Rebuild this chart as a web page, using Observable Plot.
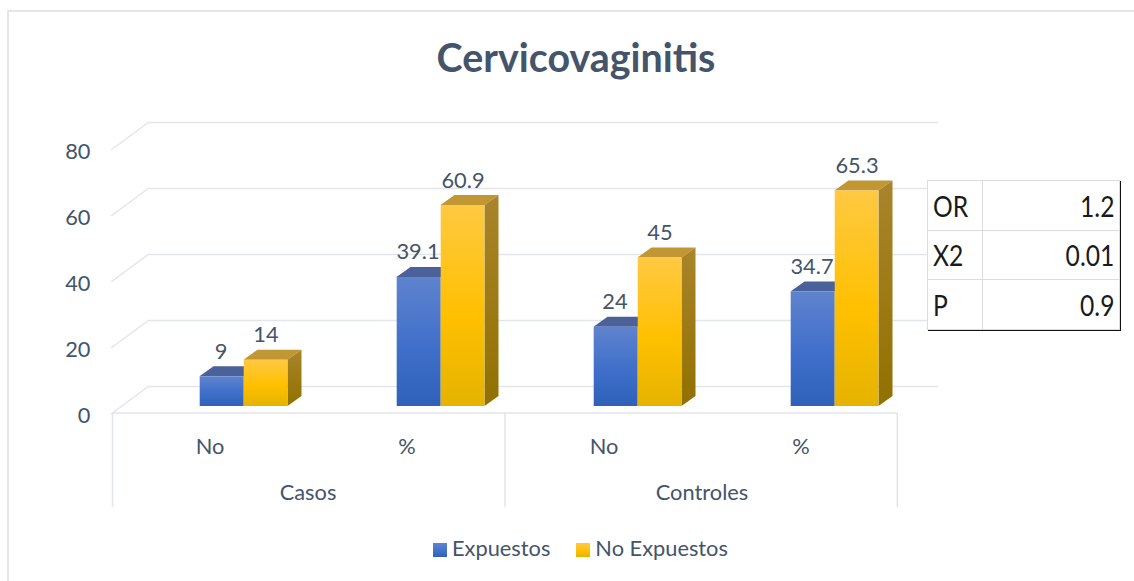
<!DOCTYPE html>
<html><head><meta charset="utf-8">
<script src="https://cdn.jsdelivr.net/npm/d3@7"></script>
<script src="https://cdn.jsdelivr.net/npm/@observablehq/plot@0.6"></script>
<style>
html,body{margin:0;padding:0;background:#fff;overflow:hidden}
#wrap{position:relative;width:1134px;height:581px;overflow:hidden;font-family:Lato,sans-serif;color:#44546a}
#frame{position:absolute;left:7px;top:10px;width:1160px;height:600px;border:2px solid #e2e5ec;box-sizing:border-box}
#chart{position:absolute;left:0;top:0}
h1{position:absolute;left:0;width:1152px;top:33px;margin:0;text-align:center;font:700 39.4px Lato,sans-serif;color:#44546a}
#legend{position:absolute;left:433px;top:535px;font-size:21.8px;line-height:26px;white-space:nowrap}
#legend i{display:inline-block;width:14px;height:14px;vertical-align:-1px;margin-right:5px}
#legend span+span{margin-left:26px}
table{position:absolute;left:927px;top:180px;width:193px;height:150px;border-collapse:collapse;background:#fff;font:29px Lato,sans-serif;color:#1a1a1a;box-shadow:1px 1px 0 #111}
td{border:1.5px solid #dcdcdc;padding:0 5px;line-height:1}
td:first-child{width:44px}
td:last-child{text-align:right}
td span{display:inline-block;transform:scaleX(.85);transform-origin:left center}
td:last-child span{transform-origin:right center}
</style></head><body>
<div id="wrap">
<div id="frame"></div>
<h1 id="title"></h1>
<div id="chart"></div>
<div id="legend"></div>
<table id="stats"></table>
</div>
<script>
const chartTitle = "Cervicovaginitis";
const groups = ["Casos", "Controles"];
const subcats = ["No", "%"];
const seriesNames = ["Expuestos", "No Expuestos"];
const expuestos = [9, 39.1, 24, 34.7];
const noExpuestos = [14, 60.9, 45, 65.3];
const yTicks = [0, 20, 40, 60, 80];
const statLabels = ["OR", "X2", "P"];
const statValues = ["1.2", "0.01", "0.9"];

const keys = groups.flatMap(g => subcats.map(s => g + " " + s));
const rows = v => v.map((value, i) => ({key: keys[i], value}));

const W = 1134, H = 581;
const barW = 44, depthX = 14, depthY = 10;
const ink = "#44546a", line = "#e2e5ec";
const textSize = 21.8;

// 3D top and side faces are derived from the scales of the bar being drawn.
function box(topFill, sideFill, dx) {
  return function(index, scales, values, dims, ctx, next) {
    const bar = next(index, scales, values, dims, ctx);
    const wrap = d3.create("svg:g");
    for (const i of index) {
      const cx = scales.x(keys[i]) + scales.x.bandwidth() / 2 + dx;
      const l = cx - barW / 2, r = cx + barW / 2;
      const yt = Math.min(values.y1[i], values.y2[i]);
      const yb = Math.max(values.y1[i], values.y2[i]);
      wrap.append("polygon").attr("fill", topFill)
        .attr("points", [[l, yt], [l + depthX, yt - depthY], [r + depthX, yt - depthY], [r, yt]].join(" "));
      wrap.append("polygon").attr("fill", sideFill)
        .attr("points", [[r, yt], [r + depthX, yt - depthY], [r + depthX, yb - depthY], [r, yb]].join(" "));
    }
    wrap.node().append(bar);
    return wrap.node();
  };
}

// Back wall side diagonals and the floor with its multi-level category dividers.
function floor(index, scales, values, dims) {
  const g = d3.create("svg:g").attr("fill", "none").attr("stroke", line).attr("stroke-width", 1.5);
  const y0 = scales.y(0);
  const left = dims.marginLeft, step = scales.x.bandwidth() - 0.8;
  const fl = scales.x(keys[0]) - 32.5;
  for (const t of yTicks) {
    const yb = scales.y(t) - 20;
    g.append("path").attr("d", `M${left - 38},${yb + 28}L${left},${yb}`);
  }
  g.append("path").attr("d", `M${fl},${y0 + 7}H${fl + 4 * step}`);
  for (const k of [0, 2, 4]) g.append("path").attr("d", `M${fl + k * step},${y0 + 7}V${y0 + 101}`);
  return g.node();
}

function defs() {
  const d = d3.create("svg:defs");
  const grad = (id, stops) => {
    const lg = d.append("linearGradient").attr("id", id).attr("x1", 0).attr("x2", 0).attr("y1", 0).attr("y2", 1);
    stops.forEach(([o, c]) => lg.append("stop").attr("offset", o).attr("stop-color", c));
  };
  grad("gBlue", [[0, "#5f83ce"], [0.55, "#3f6fca"], [1, "#2f61b9"]]);
  grad("gGold", [[0, "#ffc942"], [0.55, "#ffc000"], [1, "#e5b300"]]);
  grad("gSide", [[0, "#a9842b"], [1, "#917100"]]);
  return d.node();
}

const plot = Plot.plot({
  width: W, height: H,
  marginLeft: 149, marginRight: W - 938, marginTop: 142, marginBottom: H - 406,
  style: {background: "transparent", fontFamily: "Lato, sans-serif", fontSize: textSize + "px", color: ink, overflow: "visible"},
  x: {type: "band", domain: keys, range: [144, 933.5], padding: 0, label: null},
  y: {domain: [0, 80], label: null},
  marks: [
    defs,
    Plot.ruleY(yTicks, {dy: -20, stroke: line, strokeWidth: 1.5, strokeOpacity: 1}),
    floor,
    Plot.axisY(yTicks, {anchor: "left", tickSize: 0, tickPadding: 0, dx: -59, dy: 9.5, fontSize: textSize, fill: ink, label: null}),
    Plot.axisX({anchor: "bottom", tickSize: 0, tickPadding: 0, dx: -34, dy: 32, fontSize: textSize, fill: ink, label: null, tickFormat: k => k.split(" ")[1]}),
    Plot.text(groups, {x: (g, i) => keys[i * subcats.length], text: d => d, frameAnchor: "bottom", dy: 87, dx: 64, fontSize: textSize, fill: ink, lineAnchor: "middle"}),
    Plot.barY(rows(expuestos), {x: "key", y: "value", fill: "url(#gBlue)", insetLeft: 76.7, insetRight: 76.7, dx: -22,
      render: box("#4a6199", "#3a5490", -22)}),
    Plot.barY(rows(noExpuestos), {x: "key", y: "value", fill: "url(#gGold)", insetLeft: 76.7, insetRight: 76.7, dx: 22,
      render: box("#c09733", "url(#gSide)", 22)}),
    Plot.text(rows(expuestos), {x: "key", y: "value", text: d => String(d.value), dx: -23, dy: -25, fontSize: textSize, fill: ink, lineAnchor: "middle"}),
    Plot.text(rows(noExpuestos), {x: "key", y: "value", text: d => String(d.value), dx: 22, dy: -25, fontSize: textSize, fill: ink, lineAnchor: "middle"})
  ]
});
document.getElementById("chart").append(plot);
document.getElementById("title").textContent = chartTitle;

const legend = d3.select("#legend");
seriesNames.forEach((name, i) => {
  const s = legend.append("span");
  s.append("i").style("background", i ? "linear-gradient(#ffc942,#ffc000 60%,#e5b300)" : "linear-gradient(#5f83ce,#3f6fca 60%,#2f61b9)");
  s.append("b").style("font-weight", 400).text(name);
});
const tbl = d3.select("#stats");
statLabels.forEach((l, i) => {
  const tr = tbl.append("tr");
  tr.append("td").append("span").text(l);
  tr.append("td").append("span").text(statValues[i]);
});
</script>
</body></html>
